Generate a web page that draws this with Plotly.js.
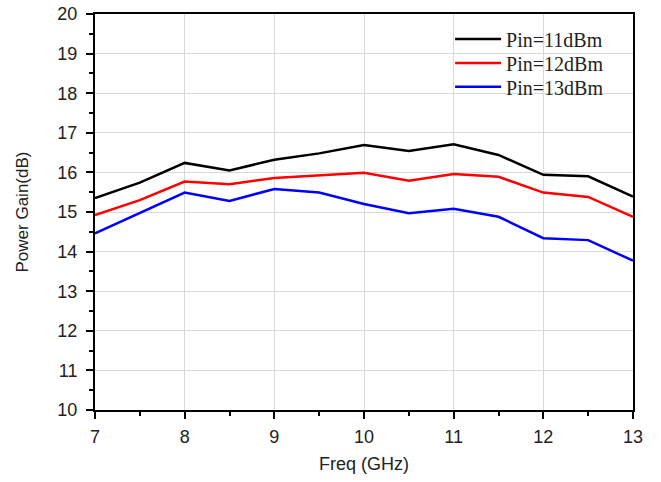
<!DOCTYPE html>
<html>
<head>
<meta charset="utf-8">
<script src="https://cdn.plot.ly/plotly-3.0.1.min.js"></script>
<style>html,body{margin:0;padding:0;background:#fff;}#chart{width:661px;height:482px;}</style>
</head>
<body>
<div id="chart"></div>
<script>
const freq = [7, 7.5, 8, 8.5, 9, 9.5, 10, 10.5, 11, 11.5, 12, 12.5, 13];
const gain11 = [15.35, 15.74, 16.24, 16.05, 16.32, 16.48, 16.69, 16.54, 16.71, 16.44, 15.94, 15.90, 15.39];
const gain12 = [14.92, 15.30, 15.77, 15.70, 15.86, 15.92, 15.99, 15.79, 15.96, 15.89, 15.49, 15.38, 14.88];
const gain13 = [14.46, 14.97, 15.49, 15.28, 15.58, 15.49, 15.20, 14.97, 15.08, 14.88, 14.34, 14.29, 13.77];
const seriesNames = ['Pin=11dBm', 'Pin=12dBm', 'Pin=13dBm'];
const seriesColors = ['#000000', '#ff0000', '#0000ff'];
const yTicks = [10, 11, 12, 13, 14, 15, 16, 17, 18, 19, 20];
const xTicks = [7, 8, 9, 10, 11, 12, 13];

const ys = [gain11, gain12, gain13];
const legendIds = ['legend', 'legend2', 'legend3'];
const legendY = [0.937, 0.876, 0.816];

const traces = ys.map((y, i) => ({
  x: freq, y: y, type: 'scatter', mode: 'lines', name: seriesNames[i],
  legend: legendIds[i],
  line: {color: seriesColors[i], width: 2.5}
}));

const axisCommon = {
  showline: true, linecolor: '#000', linewidth: 2, mirror: true,
  ticks: 'outside', ticklen: 7, tickwidth: 2, tickcolor: '#000',
  showgrid: true, gridcolor: '#d9d9d9', gridwidth: 1, zeroline: false,
  tickfont: {family: 'Liberation Sans, Arial, sans-serif', size: 18, color: '#222'}
};

const layout = {
  width: 661, height: 482,
  margin: {l: 95, r: 28, t: 14, b: 72},
  paper_bgcolor: '#fff', plot_bgcolor: '#fff',
  showlegend: true,
  xaxis: Object.assign({}, axisCommon, {
    range: [7, 13], tickvals: xTicks, ticktext: xTicks.map(String),
    ticklabelstandoff: 2,
    minor: {dtick: 0.5, ticks: 'outside', ticklen: 4, tickwidth: 2, tickcolor: '#000', showgrid: false},
    title: {text: 'Freq (GHz)', font: {family: 'Liberation Sans, Arial, sans-serif', size: 18, color: '#222'}, standoff: 12}
  }),
  yaxis: Object.assign({}, axisCommon, {
    range: [10, 20], tickvals: yTicks, ticktext: yTicks.map(String),
    ticklabelstandoff: 5,
    minor: {dtick: 0.5, ticks: 'outside', ticklen: 4, tickwidth: 2, tickcolor: '#000', showgrid: false},
    title: {text: 'Power Gain(dB)', font: {family: 'Liberation Sans, Arial, sans-serif', size: 17, color: '#222'}, standoff: 24}
  })
};

legendIds.forEach((id, i) => {
  layout[id] = {
    x: 0.66, y: legendY[i], xanchor: 'left', yanchor: 'middle',
    bgcolor: 'rgba(0,0,0,0)', borderwidth: 0, itemwidth: 46,
    font: {family: 'Liberation Serif, serif', size: 20, color: '#222'}
  };
});

Plotly.newPlot('chart', traces, layout, {displayModeBar: false, staticPlot: true});
</script>
</body>
</html>
